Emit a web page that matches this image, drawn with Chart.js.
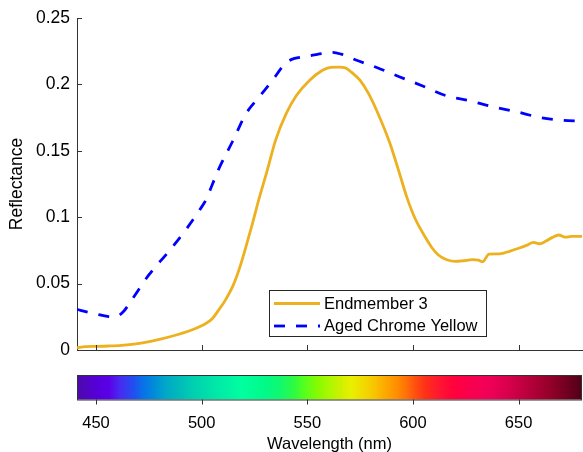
<!DOCTYPE html>
<html>
<head>
<meta charset="utf-8">
<script src="https://cdn.jsdelivr.net/npm/chart.js@4/dist/chart.umd.min.js"></script>
<style>
  html, body { margin: 0; padding: 0; background: #fff; }
  canvas { display: block; }
</style>
</head>
<body>
<canvas id="spectra" width="583" height="452"></canvas>
<script>
/* =============================================
   DATA
   ============================================= */
const endmemberWl = [441, 445, 450, 456, 462, 467, 474, 480, 488, 494, 499, 502, 505, 508, 511, 515,
  518, 521, 524, 527, 531, 535, 540, 545, 551, 557, 561, 565, 568, 571, 575, 579, 584, 589, 594, 597,
  601, 606, 609, 612, 616, 620, 624, 628, 631, 633, 636, 641, 646, 650, 654, 657, 660, 663, 666, 669,
  672, 675, 680];
const endmemberR = [0.0017, 0.0025, 0.0027, 0.0030, 0.0035, 0.0043, 0.0060, 0.0080, 0.0113, 0.0143,
  0.0175, 0.0200, 0.0235, 0.0300, 0.0370, 0.0490, 0.0620, 0.0780, 0.0950, 0.1130, 0.1350, 0.1580,
  0.1780, 0.1920, 0.2030, 0.2105, 0.2128, 0.2130, 0.2125, 0.2090, 0.2030, 0.1930, 0.1760, 0.1560,
  0.1310, 0.1155, 0.0990, 0.0845, 0.0770, 0.0715, 0.0680, 0.0667, 0.0672, 0.0680, 0.0676, 0.0665,
  0.0722, 0.0724, 0.0745, 0.0766, 0.0790, 0.0810, 0.0800, 0.0820, 0.0848, 0.0866, 0.0850, 0.0855,
  0.0855];

const chromeWl = [441, 446, 452, 456, 459, 463, 467, 475, 485, 493, 499, 502, 505, 508, 514.6, 521,
  527.3, 533.5, 538.2, 541, 544, 548, 552.6, 557, 562, 566, 573, 584, 593.5, 604.6, 615.7, 626.7,
  637.7, 648.8, 659.8, 669.3, 680];
const chromeR = [0.0306, 0.0285, 0.0264, 0.0252, 0.0250, 0.0290, 0.0380, 0.0565, 0.0753, 0.0916,
  0.1054, 0.1130, 0.1245, 0.1360, 0.1570, 0.1780, 0.1907, 0.2030, 0.2133, 0.2175, 0.2196, 0.2208,
  0.2220, 0.2232, 0.2241, 0.2228, 0.2184, 0.2120, 0.2058, 0.1988, 0.1915, 0.1877, 0.1832, 0.1795,
  0.1752, 0.1732, 0.1722];

const seriesLabels = ['Endmember 3', 'Aged Chrome Yellow'];
const xTicks = [450, 500, 550, 600, 650];
const yTicks = [0, 0.05, 0.1, 0.15, 0.2, 0.25];
const yTickLabels = ['0', '0.05', '0.1', '0.15', '0.2', '0.25'];

// colour strip under the axis (wavelength -> colour)
const stripWl = [441, 450, 456, 461, 468, 472, 478, 483, 490, 496, 507, 519, 530, 537, 544, 548, 555,
  560, 566, 571, 576, 581, 587, 592, 597, 601, 606, 612, 617, 621, 628, 636, 645, 652, 659, 666, 673, 680];
const stripColors = ['#4c0aa8', '#5500d8', '#5a00e8', '#4a28f0', '#2050f0', '#0a70e8', '#008ed8',
  '#00a8c8', '#00bcb8', '#00d0b0', '#00e8a8', '#00ffa0', '#00fa88', '#10f870', '#30fa40', '#50ff20',
  '#88fa00', '#a8f800', '#d0f000', '#e8f000', '#f0dc00', '#f8c800', '#fca800', '#ff9000', '#ff7008',
  '#ff5010', '#ff3018', '#ff1830', '#ff0838', '#ff0040', '#f80050', '#f00058', '#d8004c', '#c00040',
  '#a80034', '#900028', '#700020', '#500018'];

/* =============================================
   STYLE
   ============================================= */
const FONT = "'Liberation Sans', Arial, Helvetica, sans-serif";
const AXIS = '#333333';
const toPoints = (xs, ys) => xs.map((x, i) => ({ x, y: ys[i] }));

/* =============================================
   PLUGINS
   ============================================= */
// inward tick marks + wavelength colour strip
const stripAndTicks = {
  id: 'stripAndTicks',
  afterDraw(chart) {
    const { ctx, chartArea: a, scales: { x, y } } = chart;
    const top = a.bottom + 25, h = 24.5;
    const left = x.getPixelForValue(stripWl[0]);
    const right = x.getPixelForValue(stripWl[stripWl.length - 1]);

    ctx.save();
    const grad = ctx.createLinearGradient(left, 0, right, 0);
    stripWl.forEach((w, i) => {
      grad.addColorStop((x.getPixelForValue(w) - left) / (right - left), stripColors[i]);
    });
    ctx.fillStyle = grad;
    ctx.fillRect(left, top, right - left, h);
    ctx.strokeStyle = AXIS;
    ctx.lineWidth = 1;
    ctx.strokeRect(left + 0.5, top + 0.5, right - left - 1, h);

    ctx.beginPath();
    x.ticks.forEach(t => {
      const px = Math.round(x.getPixelForValue(t.value)) + 0.5;
      ctx.moveTo(px, a.bottom); ctx.lineTo(px, a.bottom - 5);
      ctx.moveTo(px, top + h); ctx.lineTo(px, top + h + 5);
    });
    y.ticks.forEach(t => {
      const py = Math.round(y.getPixelForValue(t.value)) + 0.5;
      ctx.moveTo(a.left, py); ctx.lineTo(a.left + 5, py);
    });
    ctx.stroke();
    ctx.restore();
  }
};

// boxed legend inside the plot area
const boxLegend = {
  id: 'boxLegend',
  afterDraw(chart) {
    const { ctx } = chart;
    const bx = 269.5, by = 290.5, bw = 217, bh = 46;
    ctx.save();
    ctx.fillStyle = '#fff';
    ctx.fillRect(bx, by, bw, bh);
    ctx.strokeStyle = '#262626';
    ctx.lineWidth = 1;
    ctx.strokeRect(bx, by, bw, bh);

    ctx.font = '16.5px ' + FONT;
    ctx.textBaseline = 'middle';
    chart.data.datasets.forEach((ds, i) => {
      const ly = 303.5 + i * 22.5;
      ctx.strokeStyle = ds.borderColor;
      ctx.lineWidth = ds.borderWidth;
      ctx.setLineDash(ds.borderDash || []);
      ctx.beginPath();
      ctx.moveTo(274, ly); ctx.lineTo(320, ly);
      ctx.stroke();
      ctx.setLineDash([]);
      ctx.fillStyle = '#000';
      ctx.fillText(ds.label, 324, ly + 0.5);
    });
    ctx.restore();
  }
};

/* =============================================
   CHART
   ============================================= */
new Chart(document.getElementById('spectra').getContext('2d'), {
  type: 'line',
  data: {
    datasets: [{
      label: seriesLabels[0],
      data: toPoints(endmemberWl, endmemberR),
      borderColor: '#EDB120',
      borderWidth: 2.8,
      cubicInterpolationMode: 'monotone',
      pointRadius: 0
    }, {
      label: seriesLabels[1],
      data: toPoints(chromeWl, chromeR),
      borderColor: '#0000FF',
      borderWidth: 2.8,
      borderDash: [11, 11],
      borderCapStyle: 'butt',
      cubicInterpolationMode: 'monotone',
      pointRadius: 0
    }]
  },
  options: {
    responsive: false,
    animation: false,
    layout: { padding: { top: 18, right: 1, left: 0, bottom: 0 } },
    plugins: { legend: { display: false }, tooltip: { enabled: false } },
    scales: {
      x: {
        type: 'linear',
        min: 441,
        max: 680,
        afterBuildTicks: s => { s.ticks = xTicks.map(v => ({ value: v })); },
        afterFit: s => { s.height = 102; s.paddingLeft = 0; s.paddingRight = 0; },
        grid: { display: false, drawTicks: false },
        border: { display: true, color: AXIS, width: 1 },
        ticks: { color: '#000', padding: 65, font: { family: FONT, size: 16.5, lineHeight: 1 } },
        title: {
          display: true,
          text: 'Wavelength (nm)',
          color: '#000',
          font: { family: FONT, size: 16.5, lineHeight: 1 },
          padding: { top: 0, bottom: -1 }
        }
      },
      y: {
        min: 0,
        max: 0.25,
        afterBuildTicks: s => { s.ticks = yTicks.map(v => ({ value: v })); },
        afterFit: s => { s.width = 77; s.paddingTop = 0; s.paddingBottom = 0; },
        grid: { display: false, drawTicks: false },
        border: { display: true, color: AXIS, width: 1 },
        ticks: {
          color: '#000',
          padding: 7,
          font: { family: FONT, size: 17.5 },
          callback: v => yTickLabels[yTicks.indexOf(v)] ?? ''
        },
        title: {
          display: true,
          text: 'Reflectance',
          color: '#000',
          font: { family: FONT, size: 17.5, lineHeight: 1.2 },
          padding: { top: 7, bottom: 0 }
        }
      }
    }
  },
  plugins: [stripAndTicks, boxLegend]
});
</script>
</body>
</html>
